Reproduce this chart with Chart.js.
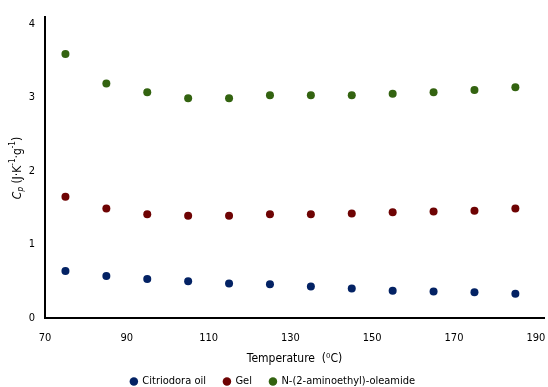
<!DOCTYPE html>
<html>
<head>
<meta charset="utf-8">
<script src="https://cdn.jsdelivr.net/npm/chart.js@4"></script>
<style>
  html, body { margin:0; padding:0; background:#fff; }
  #wrap { width:548px; height:387px; }
</style>
</head>
<body>
<div id="wrap"><canvas id="chart"></canvas></div>
<script>
  const temps = [75, 85, 95, 105, 115, 125, 135, 145, 155, 165, 175, 185];
  const citriodora = [0.64, 0.57, 0.53, 0.50, 0.47, 0.46, 0.43, 0.40, 0.37, 0.36, 0.35, 0.33];
  const gel = [1.65, 1.49, 1.41, 1.39, 1.39, 1.41, 1.41, 1.42, 1.44, 1.45, 1.46, 1.49];
  const oleamide = [3.59, 3.19, 3.07, 2.99, 2.99, 3.03, 3.03, 3.03, 3.05, 3.07, 3.10, 3.14];
  const xTicks = [70, 90, 110, 130, 150, 170, 190];
  const yTicks = [0, 1, 2, 3, 4];
  const seriesNames = ['Citriodora oil', 'Gel', 'N-(2-aminoethyl)-oleamide'];
  const seriesColors = ['#032264', '#6e0303', '#336310'];

  const FAM = '"DejaVu Sans Condensed", "DejaVu Sans", sans-serif';
  const font = { family: FAM, size: 11 };
  const pts = vals => vals.map((y, i) => ({ x: temps[i], y: y }));

  const datasets = [citriodora, gel, oleamide].map((vals, i) => ({
    label: seriesNames[i],
    data: pts(vals),
    backgroundColor: seriesColors[i],
    borderColor: seriesColors[i],
    pointRadius: 4,
    pointHoverRadius: 4,
    pointBorderWidth: 0,
    showLine: false
  }));

  // y title: italic C with subscript p, superscript -1s
  const yTitle = {
    id: 'yTitle',
    afterDraw(chart){
      const ctx = chart.ctx;
      const parts = [
        { t: 'C', f: 'italic 12px ' + FAM, dy: 0 },
        { t: 'p', f: 'italic 8px ' + FAM, dy: 3 },
        { t: ' (J\u00b7K', f: '12px ' + FAM, dy: 0 },
        { t: '-1', f: '8px ' + FAM, dy: -5 },
        { t: '\u00b7g', f: '12px ' + FAM, dy: 0 },
        { t: '-1', f: '8px ' + FAM, dy: -5 },
        { t: ')', f: '12px ' + FAM, dy: 0 }
      ];
      ctx.save();
      let total = 0;
      parts.forEach(p => { ctx.font = p.f; p.w = ctx.measureText(p.t).width; total += p.w; });
      ctx.translate(18, 168);
      ctx.rotate(-Math.PI / 2);
      ctx.fillStyle = '#000';
      ctx.textBaseline = 'middle';
      ctx.textAlign = 'left';
      let x = -total / 2;
      parts.forEach(p => { ctx.font = p.f; ctx.fillText(p.t, x, p.dy); x += p.w; });
      ctx.restore();
    }
  };

  new Chart(document.getElementById('chart'), {
    type: 'scatter',
    data: { datasets: datasets },
    plugins: [yTitle],
    options: {
      responsive: true,
      maintainAspectRatio: false,
      animation: false,
      layout: { padding: { top: 16, right: 2, left: 0, bottom: -10 } },
      plugins: {
        tooltip: { enabled: false },
        legend: {
          position: 'bottom',
          labels: { usePointStyle: true, pointStyle: 'circle', boxWidth: 6, boxHeight: 6, padding: 18, color: '#000', font: font }
        }
      },
      scales: {
        x: {
          type: 'linear', min: 70, max: 192,
          afterBuildTicks: s => { s.ticks = xTicks.map(v => ({ value: v })); },
          ticks: { color: '#000', font: font, padding: 14 },
          grid: { display: true, drawOnChartArea: false, drawTicks: false },
          border: { color: '#000', width: 2 },
          title: { display: true, text: 'Temperature  (\u2070C)', color: '#000', font: { family: FAM, size: 12 }, padding: { top: 0, bottom: -8 } },
          afterFit: s => { s.height = 40; s.paddingRight = 0; }
        },
        y: {
          min: 0, max: 4.1,
          afterBuildTicks: s => { s.ticks = yTicks.map(v => ({ value: v })); },
          ticks: { color: '#000', font: font, padding: 10 },
          grid: { display: true, drawOnChartArea: false, drawTicks: false },
          border: { color: '#000', width: 2 },
          afterFit: s => { s.width = 45; }
        }
      }
    }
  });
</script>
</body>
</html>
